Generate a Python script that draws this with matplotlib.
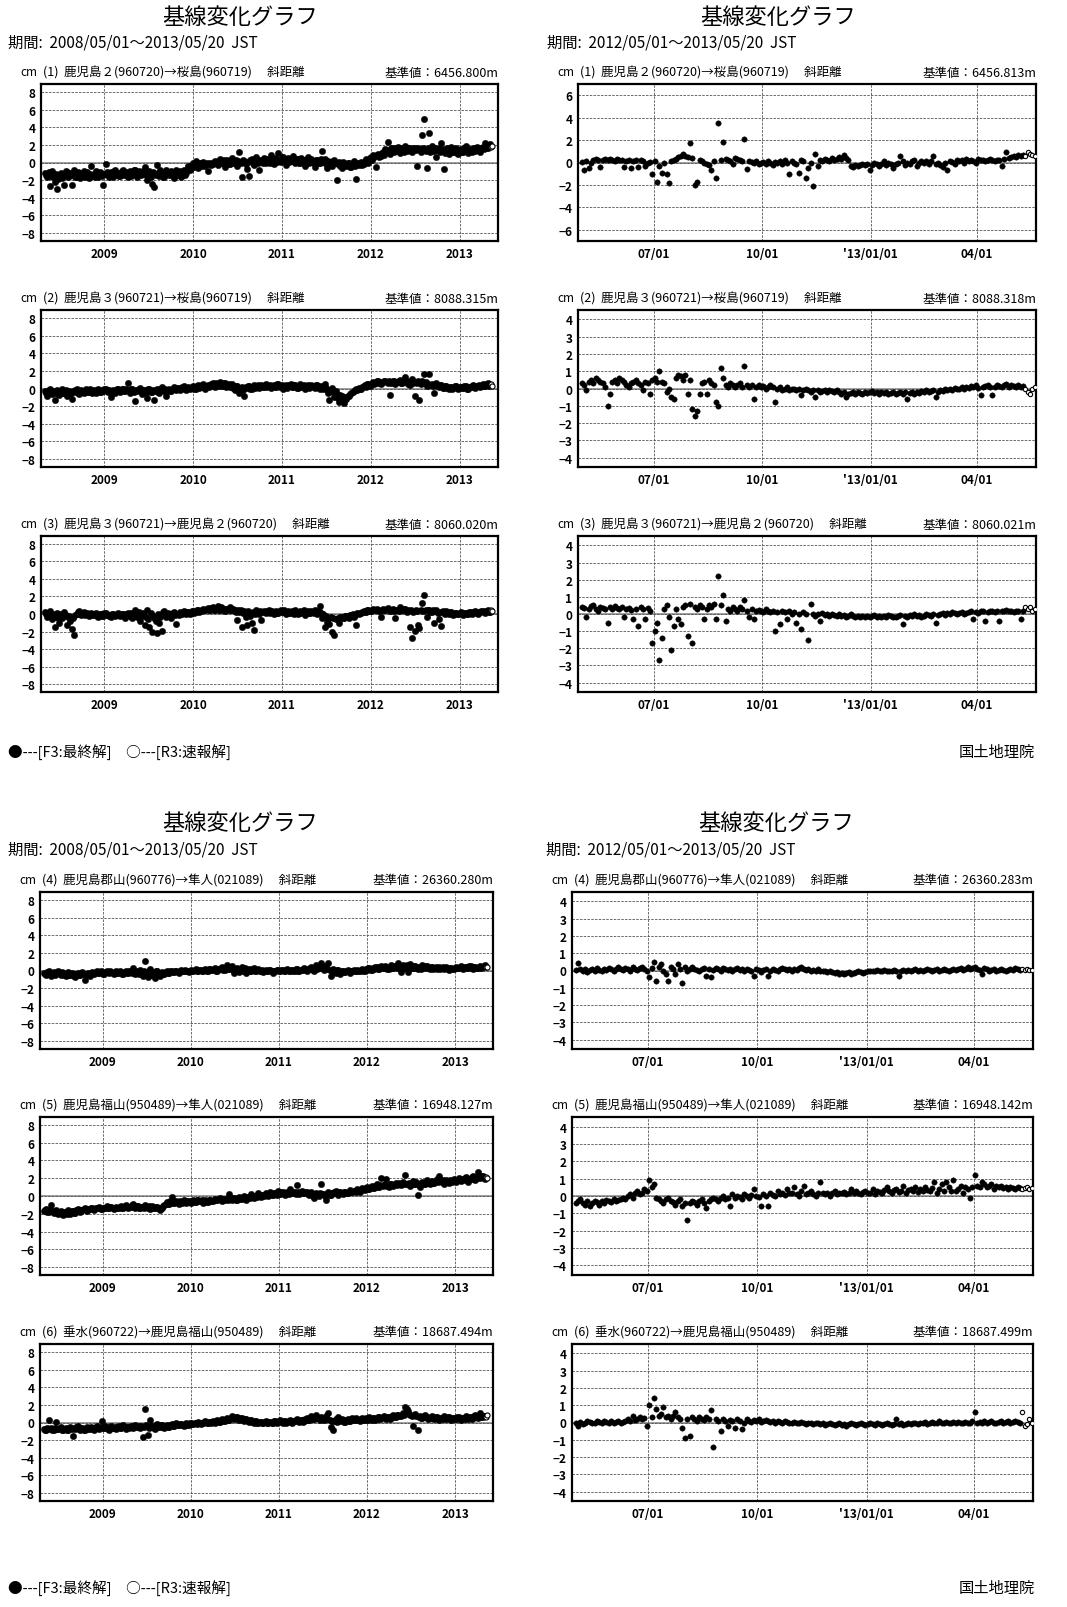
import matplotlib
matplotlib.use('Agg')
import matplotlib.pyplot as plt
import numpy as np

plt.rcParams['font.family'] = ['Noto Sans CJK JP', 'DejaVu Sans']

# ---- data (cm), left: every 5 days from 2008/05/01, right: every 2 days from 2012/05/01 ----
L_START = '2008-05-01'
L_STEP = 5
R_START = '2012-05-01'
R_STEP = 2

long1 = [
    -1.2,-1.4,-1.6,-1.1,-2.7,-1.5,-1.0,-1.7,-2.2,-1.3,-3.0,-1.9,-1.4,-1.2,-1.8,-1.5,-2.6,-1.0,-1.1,-1.6,
    -1.5,-1.2,-2.6,-1.4,-0.9,-1.6,-1.7,-1.1,-1.2,-1.8,-1.5,-1.2,-1.0,-1.6,-1.4,-1.1,-1.8,-1.3,-0.4,-1.5,
    -1.3,-1.6,-1.0,-1.4,-1.6,-1.1,-1.2,-1.5,-2.6,-1.3,-0.2,-1.1,-1.4,-1.7,-1.1,-1.4,-1.7,-1.0,-0.8,-1.4,
    -1.2,-1.5,-1.5,-1.0,-0.9,-1.4,-1.3,-1.1,-1.7,-1.2,-1.0,-1.5,-1.4,-0.9,-0.8,-1.3,-1.6,-1.0,-1.1,-1.4,
    -1.3,-1.0,-0.5,-1.4,-2.0,-1.2,-1.0,-1.6,-2.4,-1.1,-2.8,-1.4,-0.3,-1.2,-1.5,-0.9,-1.1,-1.6,-1.7,-1.2,
    -0.9,-1.3,-1.4,-1.1,-1.0,-1.5,-1.8,-1.2,-0.8,-1.4,-1.3,-1.0,-1.6,-1.1,-0.9,-1.4,-1.2,-0.9,-0.4,-0.8,
    -0.6,-0.3,-0.1,-0.5,0.2,-0.2,-0.6,-0.1,-0.1,-0.4,0.1,-0.3,-0.4,0.0,-1.0,-0.2,0.0,-0.3,-0.2,0.1,
    0.2,-0.1,-0.3,0.2,0.4,-0.1,0.0,0.3,-0.5,0.1,0.3,-0.2,-0.2,0.2,0.5,0.0,0.1,0.3,-0.4,0.2,
    1.2,0.0,-1.6,0.3,0.2,-0.2,-0.7,0.1,-1.5,0.3,0.4,-0.1,-0.3,0.2,0.6,0.0,-0.8,0.3,0.2,-0.1,
    0.5,0.1,-0.1,0.4,0.3,0.0,0.8,0.2,-0.2,0.5,0.4,0.1,1.1,0.3,0.1,0.6,0.6,0.2,-0.3,0.4,
    0.5,0.1,0.2,0.5,0.7,0.2,-0.1,0.4,0.4,0.0,0.0,0.5,0.3,0.1,-0.4,0.3,0.6,0.0,0.1,0.4,
    0.2,0.0,-0.5,0.3,0.3,-0.1,0.0,0.4,1.3,0.1,0.4,-0.2,-0.6,0.2,0.1,-0.3,-0.4,0.2,0.3,-0.1,
    -2.0,-0.2,0.1,-0.4,-0.6,0.1,0.0,-0.3,-0.4,0.0,-0.1,-0.5,-0.5,-0.1,0.2,-0.4,-1.9,0.0,-0.3,-0.1,
    0.1,-0.3,-0.2,0.2,0.4,0.1,0.0,0.5,0.6,0.3,0.9,0.6,-0.5,0.8,1.0,0.6,0.7,1.1,1.2,0.9,
    1.5,1.2,2.3,1.4,1.0,1.7,1.6,1.2,1.3,1.6,1.8,1.3,1.1,1.6,1.5,1.2,1.9,1.4,1.3,1.7,
    1.6,1.3,1.2,1.7,1.7,1.4,-0.4,1.6,1.5,1.2,3.1,1.7,4.9,1.3,-0.6,1.6,3.4,1.2,1.9,1.5,
    1.3,1.7,0.6,1.4,1.7,1.2,2.2,1.5,-0.7,1.1,1.4,1.7,1.0,1.3,1.8,1.2,1.2,1.5,1.6,1.1,
    1.0,1.4,1.5,1.2,1.2,1.6,1.9,1.3,1.1,1.5,1.4,1.2,1.7,1.5,1.3,1.8,1.6,1.4,1.2,1.7,
    1.8,1.5,2.2,1.7,1.6,2.0,2.1,1.8,1.9,
]
long2 = [
    -0.3,-0.5,-0.8,-0.2,0.0,-0.4,-0.6,-0.3,-1.3,-0.5,-0.2,-0.6,-0.7,-0.3,-0.1,-0.5,-0.5,-0.2,-0.9,-0.4,
    -0.3,-0.6,-1.2,-0.3,-0.4,-0.2,0.0,-0.5,-0.6,-0.3,-0.2,-0.4,-0.5,-0.3,-0.1,-0.4,-0.4,-0.1,-0.3,-0.5,
    -0.2,-0.4,-0.5,-0.2,-0.1,-0.4,-0.4,-0.2,-0.3,-0.1,0.0,-0.3,-0.4,-0.2,-1.0,-0.3,-0.2,-0.4,-0.5,-0.1,
    -0.1,-0.3,-0.4,-0.1,0.0,-0.3,-0.3,-0.1,0.6,-0.2,-0.5,-0.1,-0.1,-0.4,-1.4,-0.2,-0.3,0.0,0.1,-0.3,
    -0.6,-0.2,-0.2,-0.5,-1.1,-0.1,0.0,-0.4,-0.4,-0.2,-1.3,-0.3,-0.1,-0.4,-0.5,-0.1,0.2,-0.2,-0.3,0.0,
    -0.8,-0.2,0.0,-0.3,-0.3,0.0,0.2,-0.1,-0.2,0.1,0.1,-0.2,-0.1,0.2,0.3,0.0,-0.2,0.1,0.2,0.0,
    0.1,0.2,0.3,0.0,-0.1,0.3,0.4,0.1,0.2,0.4,0.5,0.2,0.0,0.3,0.4,0.2,0.3,0.5,0.6,0.3,
    0.2,0.6,0.5,0.3,0.7,0.4,0.3,0.6,0.6,0.2,0.4,0.5,0.2,0.4,0.5,0.1,-0.2,0.3,0.3,0.0,
    -0.5,0.1,0.2,-0.2,-0.8,0.2,0.1,0.3,0.3,0.0,-0.1,0.2,0.4,0.1,0.2,0.4,0.1,0.3,0.4,0.2,
    0.2,0.4,0.5,0.2,0.3,0.4,0.1,0.3,0.4,0.2,0.2,0.5,0.5,0.2,0.3,0.4,0.0,0.3,0.4,0.1,
    0.3,0.4,0.5,0.2,0.2,0.4,0.4,0.1,0.1,0.3,0.5,0.2,0.3,0.4,0.0,0.3,0.4,0.1,0.2,0.4,
    0.3,0.2,0.1,0.4,0.4,0.1,0.0,0.3,0.2,-0.1,0.5,0.1,-0.2,-0.5,-1.3,-0.2,0.1,-0.4,-1.0,-0.3,
    -0.6,-1.1,-1.5,-0.7,-0.9,-1.3,-1.7,-1.0,-1.2,-0.9,-0.8,-0.6,-0.5,-0.4,-0.3,-0.2,-0.1,-0.2,0.1,0.0,
    0.0,0.2,0.3,0.4,0.2,0.5,0.5,0.3,0.4,0.6,0.7,0.5,0.6,0.8,0.8,0.6,0.5,0.7,0.7,0.9,
    0.9,0.7,0.6,0.8,-0.7,0.6,0.8,0.9,0.5,0.7,0.7,0.9,1.0,0.6,0.6,0.8,1.3,0.7,0.8,0.5,
    0.4,0.8,1.1,0.6,-0.8,0.7,0.6,0.9,-1.3,0.5,0.9,0.6,1.6,0.7,0.3,0.5,1.7,0.4,0.5,0.3,
    -0.5,0.4,0.6,0.3,0.2,0.4,0.4,0.1,0.1,0.3,0.3,0.1,0.0,0.2,0.2,0.0,0.1,0.3,0.3,0.1,
    0.0,0.2,0.2,0.1,0.1,0.3,0.3,0.0,-0.1,0.2,0.2,0.3,0.4,0.2,0.1,0.3,0.3,0.4,0.2,0.3,
    0.5,0.3,0.3,0.5,0.6,0.3,0.4,0.5,0.3,
]
long3 = [
    0.2,0.0,-0.3,0.1,0.3,-0.2,-0.6,0.0,-1.5,-0.3,0.1,-0.5,-1.0,0.0,-0.4,-0.2,0.2,-0.1,-1.3,-0.3,
    -0.2,-0.8,-1.7,-0.4,-2.4,-0.1,0.0,0.2,0.3,0.0,-0.1,0.1,0.2,-0.1,0.0,0.1,-0.2,0.0,0.1,-0.1,
    -0.1,0.0,0.1,-0.2,-0.3,0.0,0.0,-0.2,-0.2,0.1,0.1,-0.1,-0.1,-0.2,-0.3,0.0,0.0,-0.1,-0.2,0.0,
    0.1,-0.1,-0.2,0.0,0.0,-0.2,-0.4,0.0,0.1,-0.1,-0.2,0.1,-0.5,-0.1,0.4,0.0,-0.3,0.2,-0.8,-0.1,
    -0.2,0.1,-1.2,-0.3,0.5,-0.6,-1.5,0.1,-2.1,-0.2,-0.4,-0.8,-2.2,0.0,-1.0,-0.3,-1.9,0.2,0.3,-0.1,
    -0.3,0.1,0.0,-0.2,-0.5,0.1,0.2,-0.1,-1.1,0.0,-0.1,0.2,0.1,0.0,0.3,0.1,0.0,0.2,0.2,0.0,
    0.1,0.3,0.3,0.1,0.2,0.4,0.5,0.2,0.3,0.5,0.6,0.4,0.4,0.6,0.7,0.4,0.5,0.7,0.8,0.5,
    0.4,0.7,0.9,0.5,0.5,0.8,0.7,0.4,0.3,0.6,0.6,0.4,0.8,0.5,0.4,0.6,0.5,0.2,-0.7,0.4,
    0.2,0.4,-1.5,0.1,0.3,-0.3,-1.2,0.3,0.1,-0.2,-1.0,0.2,-1.8,0.0,0.4,0.1,0.0,0.3,-0.7,0.2,
    0.3,0.2,0.1,0.3,0.4,0.1,0.2,0.3,0.0,0.2,0.3,0.1,0.1,0.3,0.4,0.2,0.2,0.4,0.0,0.2,
    0.3,0.1,0.1,0.3,0.2,0.0,0.4,0.2,0.0,0.2,0.3,0.1,0.2,0.4,-0.1,0.2,0.3,0.1,0.1,0.3,
    0.2,0.1,0.4,0.2,0.0,0.3,0.9,0.1,-0.5,0.0,-1.5,-0.2,-0.9,-0.4,-1.1,-0.3,-2.0,-0.5,-2.4,-0.6,
    -0.6,-0.4,-1.0,-0.3,-0.3,-0.4,-0.5,-0.2,-0.2,-0.3,-0.4,-0.1,-0.1,0.0,-0.3,-0.1,-1.2,0.1,0.0,0.1,
    0.1,0.2,0.3,0.2,0.2,0.4,0.5,0.3,0.3,0.5,0.6,0.4,0.4,0.6,0.5,0.3,-0.3,0.5,0.6,0.4,
    0.4,0.6,0.7,0.4,0.3,0.5,0.6,0.3,-0.4,0.5,0.5,0.3,0.8,0.5,0.4,0.6,0.6,0.3,0.2,0.5,
    -1.5,0.4,-2.7,0.2,-1.9,0.5,0.3,-1.2,-1.6,0.4,1.2,0.3,2.2,0.5,-0.3,0.4,0.5,0.2,0.2,0.4,
    -1.0,0.3,0.4,0.1,-0.6,0.2,-1.4,0.3,0.1,0.0,0.3,0.1,0.0,0.2,0.2,0.0,-0.1,0.1,0.1,0.0,
    0.0,0.1,0.2,0.0,-0.1,0.1,0.1,0.0,0.0,0.2,0.2,0.0,0.1,0.2,0.3,0.1,0.0,0.2,0.2,0.3,
    0.3,0.2,0.1,0.3,0.4,0.2,0.2,0.4,0.3,
]
long4 = [
    -0.3,-0.4,-0.5,-0.2,-0.1,-0.4,-0.6,-0.3,-0.2,-0.5,-0.4,-0.2,0.0,-0.3,-0.5,-0.2,-0.3,-0.5,-0.6,-0.4,
    -0.2,-0.5,-0.5,-0.3,-0.4,-0.6,-0.7,-0.4,-0.3,-0.5,-0.5,-0.3,-0.2,-0.4,-1.1,-0.5,-0.4,-0.3,-0.6,-0.4,
    -0.2,-0.3,-0.4,-0.2,-0.1,-0.3,-0.3,-0.1,-0.2,-0.4,-0.4,-0.2,0.0,-0.2,-0.3,-0.1,-0.2,-0.3,-0.4,-0.2,
    -0.1,-0.3,-0.3,-0.1,-0.2,-0.4,-0.4,-0.2,0.0,-0.3,-0.3,-0.1,-0.1,-0.3,0.3,-0.2,-0.4,-0.1,-0.2,-0.4,
    0.1,-0.3,-0.6,-0.1,1.1,-0.4,-0.7,0.0,0.2,-0.3,-0.5,-0.2,-0.8,-0.1,0.0,-0.4,-0.6,-0.3,-0.2,-0.4,
    -0.4,-0.2,-0.1,-0.3,-0.3,-0.1,0.0,-0.2,-0.2,0.0,-0.1,-0.2,-0.3,-0.1,0.1,-0.1,-0.1,0.1,0.0,-0.1,
    -0.2,0.0,0.1,-0.1,-0.1,0.1,0.2,0.0,0.0,0.1,0.1,-0.1,-0.1,0.1,0.2,0.0,0.0,0.2,0.2,0.1,
    0.1,0.2,0.3,0.0,0.0,0.2,0.2,0.3,0.4,0.1,0.1,0.3,0.6,0.2,0.2,0.4,0.5,0.1,-0.3,0.2,
    0.3,0.1,-0.2,0.2,0.4,0.0,0.1,0.3,-0.3,0.1,0.2,0.0,0.0,0.2,0.3,0.0,-0.1,0.1,0.2,0.0,
    0.0,0.1,-0.2,0.0,0.1,-0.1,-0.1,0.1,0.1,-0.1,-0.3,0.0,0.0,0.1,0.1,-0.1,-0.1,0.1,0.1,0.0,
    0.0,0.1,0.2,0.0,-0.1,0.1,0.1,0.0,0.0,0.2,0.2,0.0,-0.1,0.1,0.1,0.2,0.3,0.1,0.0,0.2,
    0.2,0.3,0.4,0.1,0.0,0.3,0.6,0.2,0.3,0.5,0.8,0.3,0.1,0.4,0.5,0.2,0.9,0.1,-0.6,0.0,
    0.2,0.0,-0.3,0.1,0.1,-0.2,-0.4,0.0,0.0,-0.2,-0.2,0.0,0.1,-0.1,-0.3,0.0,-0.1,0.1,0.0,-0.1,
    0.1,0.0,-0.1,0.1,0.2,0.0,0.0,0.2,0.1,0.3,0.3,0.1,0.1,0.3,0.2,0.4,0.4,0.2,0.2,0.4,
    0.5,0.3,0.3,0.5,0.4,0.2,0.2,0.4,0.6,0.3,0.3,0.5,0.5,0.3,0.8,0.4,-0.2,0.5,0.6,0.3,
    0.4,0.6,-0.2,0.4,0.7,0.3,0.3,0.5,0.5,0.3,0.2,0.4,0.4,0.2,0.6,0.4,0.3,0.5,0.5,0.3,
    0.2,0.4,0.4,0.2,0.3,0.4,0.2,0.3,0.4,0.2,0.3,0.4,0.2,0.3,0.4,0.2,0.1,0.3,0.3,0.2,
    0.2,0.3,0.4,0.3,0.3,0.4,0.5,0.3,0.2,0.4,0.4,0.3,0.3,0.5,0.5,0.3,0.2,0.4,0.4,0.3,
    0.3,0.4,0.5,0.3,0.4,0.5,0.6,0.4,0.4,
]
long5 = [
    -1.7,-1.6,-1.5,-1.8,-1.8,-1.6,-1.0,-1.7,-1.9,-1.7,-1.6,-1.9,-2.0,-1.8,-1.7,-2.0,-2.1,-1.8,-1.8,-2.0,
    -1.6,-1.8,-2.0,-1.7,-1.7,-1.9,-1.9,-1.6,-1.5,-1.7,-1.8,-1.6,-1.6,-1.5,-1.4,-1.6,-1.7,-1.5,-1.5,-1.3,
    -1.3,-1.5,-1.6,-1.4,-1.4,-1.3,-1.2,-1.5,-1.5,-1.3,-1.3,-1.4,-1.1,-1.3,-1.4,-1.2,-1.2,-1.4,-1.5,-1.3,
    -1.2,-1.3,-1.4,-1.2,-1.1,-1.3,-1.3,-1.1,-1.0,-1.2,-1.4,-1.2,-1.2,-1.0,-0.9,-1.2,-1.3,-1.1,-1.1,-1.3,
    -1.4,-1.2,-1.2,-1.3,-1.0,-1.2,-1.3,-1.1,-1.5,-1.3,-1.1,-1.3,-1.4,-1.2,-1.2,-1.4,-1.6,-1.3,-1.3,-1.1,
    -1.0,-0.9,-0.7,-0.9,-0.9,-0.6,-0.1,-0.8,-0.8,-0.7,-0.6,-0.8,-0.9,-0.6,-0.7,-0.8,-0.5,-0.7,-0.8,-0.6,
    -0.6,-0.7,-0.8,-0.6,-0.5,-0.7,-0.7,-0.5,-0.4,-0.6,-0.6,-0.5,-0.8,-0.6,-0.5,-0.7,-0.7,-0.5,-0.4,-0.6,
    -0.6,-0.4,-0.3,-0.5,-0.5,-0.3,-0.2,-0.4,-0.6,-0.3,-0.4,-0.3,-0.3,-0.5,0.2,-0.3,-0.5,-0.2,-0.2,-0.4,
    -0.4,-0.2,-0.1,-0.3,-0.3,-0.1,0.0,-0.2,-0.4,-0.1,-0.1,-0.2,0.2,-0.1,-0.2,0.0,0.0,-0.1,0.3,0.0,
    -0.1,0.1,0.1,0.0,0.3,0.1,0.0,0.2,0.4,0.1,0.1,0.3,0.3,0.1,0.6,0.2,0.2,0.4,0.4,0.2,
    0.1,0.3,0.4,0.2,0.8,0.3,0.3,0.5,0.5,0.2,1.2,0.4,0.2,0.5,0.6,0.3,0.3,0.5,0.5,0.2,
    0.1,0.3,0.4,0.0,-0.2,0.2,0.3,0.1,0.0,0.3,1.4,0.2,0.2,0.0,-0.4,0.2,0.4,0.1,0.1,0.3,
    0.3,0.4,0.6,0.3,0.1,0.4,0.4,0.3,0.2,0.5,0.5,0.3,0.3,0.5,0.7,0.4,0.4,0.6,0.6,0.5,
    0.8,0.6,0.5,0.7,0.9,0.8,0.7,0.9,1.0,0.8,0.8,1.0,1.1,0.9,0.9,1.1,1.3,1.0,1.0,1.2,
    2.0,1.1,1.2,1.3,1.9,1.1,1.0,1.3,1.4,1.2,1.1,1.4,1.5,1.2,1.3,1.5,1.2,1.4,1.6,1.3,
    2.4,1.4,1.3,1.5,1.1,1.4,1.7,1.3,1.4,1.6,0.1,1.2,1.0,1.4,1.6,1.4,1.3,1.6,1.8,1.5,
    1.4,1.6,1.7,1.5,1.5,1.7,1.9,1.6,2.3,1.7,1.6,1.8,1.4,1.6,1.8,1.6,1.5,1.8,1.7,1.6,
    1.9,1.7,1.6,1.8,2.0,1.8,1.7,1.9,1.8,2.0,2.1,1.8,1.6,1.9,1.9,2.1,2.2,1.9,1.8,2.0,
    2.7,2.1,2.0,2.2,2.3,2.0,1.9,2.1,2.0,
]
long6 = [
    -0.7,-0.8,-0.9,-0.6,0.3,-0.7,-0.6,-0.8,-0.8,-0.6,0.1,-0.7,-0.7,-0.6,-0.5,-0.8,-0.9,-0.7,-0.6,-0.8,
    -0.8,-0.6,-0.5,-0.7,-1.5,-0.6,-0.7,-0.5,-0.4,-0.7,-0.8,-0.6,-0.6,-0.8,-0.9,-0.6,-0.5,-0.7,-0.7,-0.5,
    -0.6,-0.7,-0.8,-0.5,-0.4,-0.6,-0.7,-0.5,0.2,-0.6,-0.6,-0.4,-0.5,-0.7,-0.8,-0.6,-0.4,-0.6,-0.6,-0.5,
    -0.7,-0.5,-0.4,-0.6,-0.6,-0.4,-0.3,-0.5,-0.7,-0.5,-0.5,-0.6,-0.4,-0.5,-0.6,-0.4,-0.3,-0.5,-0.5,-0.4,
    -0.6,-0.4,-1.6,-0.5,1.5,-0.3,-1.4,-0.6,0.3,-0.4,-0.4,-0.6,-0.7,-0.3,-0.2,-0.5,-0.5,-0.3,-0.3,-0.5,
    -0.6,-0.4,-0.3,-0.5,-0.5,-0.3,-0.2,-0.4,-0.4,-0.2,-0.1,-0.3,-0.3,-0.2,-0.2,-0.3,-0.4,-0.2,-0.1,-0.3,
    -0.3,-0.1,0.0,-0.2,-0.2,0.0,-0.1,-0.2,0.1,-0.1,-0.2,0.0,0.0,0.1,0.2,0.0,-0.1,0.1,0.1,0.0,
    0.2,0.1,0.0,0.2,0.3,0.1,0.1,0.3,0.4,0.2,0.2,0.4,0.5,0.3,0.3,0.5,0.7,0.5,0.4,0.6,
    0.6,0.4,0.3,0.5,0.5,0.3,0.2,0.4,0.4,0.2,0.1,0.3,0.3,0.1,0.0,0.2,0.2,0.0,-0.1,0.1,
    0.1,0.0,0.0,0.1,0.2,0.0,-0.1,0.1,0.1,0.0,0.0,0.2,0.2,0.0,0.1,0.2,0.3,0.1,0.0,0.2,
    0.2,0.0,0.1,0.2,0.3,0.1,0.0,0.2,0.2,0.3,0.4,0.2,0.1,0.3,0.3,0.1,0.2,0.4,0.5,0.3,
    0.3,0.5,0.7,0.4,0.4,0.6,0.8,0.5,0.5,0.3,0.6,0.4,0.3,0.5,0.7,0.4,1.1,0.3,-0.5,0.2,
    -0.8,0.2,0.4,0.1,0.6,0.3,0.2,0.4,0.3,0.1,0.1,0.3,0.4,0.2,0.2,0.4,0.5,0.3,0.3,0.5,
    0.4,0.3,0.2,0.4,0.5,0.3,0.3,0.5,0.4,0.3,0.6,0.4,0.3,0.5,0.5,0.3,0.4,0.6,0.6,0.4,
    0.5,0.6,0.7,0.5,0.4,0.6,0.6,0.4,0.5,0.7,0.8,0.6,0.6,0.8,0.9,0.7,0.7,0.9,1.1,0.8,
    1.8,1.5,1.3,1.0,0.9,0.7,-0.4,0.8,1.0,0.7,-0.9,0.6,0.7,0.5,0.5,0.7,0.8,0.6,0.6,0.4,
    0.5,0.6,0.7,0.5,0.4,0.6,0.6,0.4,0.3,0.5,0.5,0.4,0.7,0.5,0.4,0.6,0.6,0.4,0.3,0.5,
    0.5,0.4,0.4,0.6,0.6,0.4,0.3,0.5,0.5,0.4,0.7,0.5,0.4,0.6,0.6,0.4,0.5,0.7,0.8,0.6,
    0.5,0.7,1.1,0.6,0.6,0.7,0.7,0.6,0.8,
]

short1 = [
    0.05,-0.7,0.1,-0.5,0.0,0.2,0.3,0.25,-0.4,0.2,0.3,0.25,0.3,0.2,0.1,0.3,0.25,0.2,-0.4,0.15,
    0.2,-0.5,0.1,0.2,-0.4,0.2,0.1,-0.3,0.0,0.05,-1.0,0.1,-1.7,-0.3,-0.9,0.0,-1.0,-1.8,0.1,0.2,
    0.3,0.5,0.6,0.8,0.6,0.5,1.7,0.4,-2.0,-1.7,0.2,0.1,0.0,-0.1,-0.2,-0.7,0.1,-1.4,3.5,0.2,
    1.8,0.3,0.2,0.1,-0.1,0.4,0.3,0.2,0.1,2.1,-0.6,0.1,0.05,0.0,0.1,-0.1,0.0,0.05,-0.1,0.1,
    0.0,-0.2,0.05,0.0,0.1,-0.1,0.2,0.0,-1.0,0.1,0.0,-0.1,-0.9,0.2,0.1,-1.4,-0.5,0.0,-2.1,0.8,
    -0.3,0.2,0.1,0.3,0.2,0.1,0.4,0.2,0.3,0.5,0.3,0.7,0.4,0.2,-0.3,-0.4,-0.2,-0.3,-0.2,-0.1,
    -0.2,-0.1,-0.7,-0.2,0.0,-0.1,-0.3,-0.1,0.1,-0.2,0.0,-0.1,-0.5,-0.1,0.0,0.6,0.1,-0.2,0.0,-0.1,
    0.1,0.2,-0.3,0.0,0.1,0.0,0.1,-0.1,0.1,0.6,-0.1,0.0,-0.2,-0.4,0.0,-0.7,0.1,0.05,-0.1,0.2,
    0.1,0.2,0.0,0.3,0.1,0.2,0.15,0.0,0.3,0.2,0.25,0.1,0.2,0.3,0.2,0.1,0.25,0.2,-0.3,0.3,
    0.9,0.4,0.5,0.6,0.5,0.7,0.6,0.7,0.6,0.9,0.8,0.7,0.6,
]
short2 = [
    0.3,0.2,-0.1,0.4,0.5,0.3,0.6,0.5,0.4,0.3,0.1,-1.0,-0.3,0.4,0.5,0.3,0.6,0.5,0.4,0.2,
    0.1,0.3,0.4,0.5,0.3,0.2,-0.1,0.4,0.3,-0.3,0.5,0.6,0.4,1.0,0.4,0.3,-0.2,0.0,-0.5,-0.6,
    0.6,0.8,0.7,0.5,0.8,-0.3,0.5,-1.2,-1.6,-1.3,-0.3,0.3,0.4,-0.3,0.5,0.3,0.2,-0.8,-1.0,1.2,
    0.6,0.2,0.1,0.3,0.2,0.1,0.2,0.3,0.1,1.3,0.2,0.1,0.2,-0.6,0.1,0.2,0.1,0.15,0.0,0.1,
    0.2,0.1,-0.8,0.0,0.1,-0.1,0.0,0.1,-0.1,0.0,-0.05,-0.1,0.0,-0.4,-0.1,0.0,-0.1,-0.2,-0.1,-0.5,
    -0.1,-0.2,-0.15,-0.1,-0.2,-0.1,-0.15,-0.2,-0.1,-0.2,-0.3,-0.2,-0.5,-0.3,-0.25,-0.2,-0.3,-0.2,-0.25,-0.3,
    -0.2,-0.25,-0.2,-0.15,-0.25,-0.2,-0.3,-0.2,-0.25,-0.2,-0.3,-0.25,-0.2,-0.3,-0.25,-0.2,-0.3,-0.2,-0.6,-0.25,
    -0.2,-0.3,-0.2,-0.25,-0.15,-0.2,-0.1,-0.2,-0.15,-0.1,-0.5,-0.2,-0.1,-0.15,-0.05,-0.1,0.0,-0.1,0.05,-0.05,
    0.0,0.1,-0.05,0.1,0.05,0.15,0.1,0.2,0.05,-0.4,0.1,0.15,0.2,0.1,-0.4,0.1,0.2,0.15,0.1,0.2,
    0.25,0.1,0.2,0.15,0.1,0.2,0.1,0.15,0.0,-0.2,-0.3,0.0,0.1,
]
short3 = [
    0.4,0.35,-0.2,0.3,0.45,0.5,0.3,0.2,0.4,0.35,0.3,-0.5,0.4,0.3,0.45,0.35,0.3,0.4,-0.2,0.3,
    0.35,0.25,-0.3,0.3,-0.7,0.4,0.3,-0.3,0.35,0.2,-1.7,-1.0,-0.5,-2.7,-1.4,0.3,0.5,-0.2,-2.1,-0.7,
    0.3,-0.3,-0.6,0.4,0.5,-1.3,0.6,-1.7,0.4,0.3,0.5,0.4,-0.3,0.3,0.5,0.4,0.6,-0.3,2.2,0.5,
    1.1,-0.4,0.3,0.2,0.4,0.3,0.2,0.4,0.3,0.8,0.2,-0.2,0.3,-0.3,0.2,0.25,0.2,0.1,0.3,0.2,
    0.1,0.2,-1.0,0.1,-0.6,0.2,0.1,-0.3,0.2,0.0,0.1,-0.5,0.0,-0.9,0.1,0.0,-1.5,0.6,0.0,-0.1,
    0.0,-0.4,0.05,-0.05,0.0,-0.1,0.0,-0.05,-0.1,0.0,-0.1,-0.05,-0.15,-0.1,0.0,-0.1,-0.15,-0.1,-0.2,-0.1,
    -0.15,-0.1,-0.2,-0.1,-0.05,-0.15,-0.1,-0.2,-0.1,-0.15,-0.05,-0.1,-0.2,-0.15,-0.1,-0.05,-0.6,-0.1,-0.15,-0.05,
    -0.1,0.0,-0.1,-0.05,-0.15,-0.1,0.0,-0.05,-0.1,0.0,-0.5,-0.05,0.0,0.05,-0.05,0.05,0.0,0.1,0.05,0.0,
    0.05,0.1,0.0,0.05,0.1,0.15,-0.3,0.1,0.05,0.15,0.2,-0.4,0.1,0.2,0.15,0.1,0.2,-0.4,0.15,0.2,
    0.25,0.15,0.2,0.1,0.2,0.15,-0.3,0.2,0.4,0.3,0.4,0.2,0.3,
]
short4 = [
    0.05,0.45,0.1,0.0,0.1,-0.1,0.05,0.1,0.0,0.15,0.05,0.0,0.1,0.05,0.15,0.1,0.0,0.1,0.2,0.1,
    0.05,0.15,0.1,0.0,0.2,0.1,0.05,0.15,0.2,0.1,0.0,-0.4,0.15,0.5,-0.6,0.2,0.4,0.0,-0.2,-0.6,
    0.2,0.1,-0.2,0.4,0.1,-0.7,0.2,0.0,0.1,0.2,0.1,0.05,0.0,0.1,0.15,-0.3,0.1,-0.4,0.05,0.15,
    0.1,0.0,0.15,0.1,0.05,0.1,0.0,0.1,0.15,0.05,0.1,0.0,0.1,0.05,0.0,-0.3,0.1,0.05,-0.1,0.05,
    0.1,-0.3,0.0,0.1,0.05,0.0,0.1,0.15,0.1,0.05,0.1,0.0,0.1,0.05,0.15,0.2,0.1,0.05,0.1,0.0,
    0.05,0.0,0.1,0.0,-0.05,0.0,-0.1,-0.05,-0.1,-0.15,-0.1,-0.2,-0.15,-0.2,-0.15,-0.1,-0.2,-0.15,-0.1,-0.05,
    -0.1,-0.15,-0.1,0.0,-0.05,0.0,-0.05,0.05,0.0,-0.05,0.05,0.0,-0.05,0.0,0.05,0.0,-0.3,0.0,0.05,0.0,
    0.05,0.0,0.05,0.1,0.0,0.05,0.0,0.05,0.1,0.05,0.0,0.05,0.1,0.0,0.05,0.1,0.05,0.0,0.05,0.1,
    0.05,0.1,0.15,0.05,0.1,0.2,0.1,0.15,0.2,0.1,0.05,-0.2,0.15,0.1,0.0,0.05,0.1,0.0,0.05,0.1,
    0.05,0.0,0.05,0.1,0.05,0.15,0.1,0.05,0.1,0.05,0.1,0.05,0.05,
]
short5 = [
    -0.4,-0.3,-0.2,-0.4,-0.5,-0.3,-0.6,-0.4,-0.3,-0.35,-0.5,-0.3,-0.4,-0.25,-0.3,-0.35,-0.2,-0.3,-0.25,-0.2,
    -0.1,-0.2,0.0,0.1,-0.1,0.2,0.3,0.1,0.2,0.4,0.3,0.9,0.5,0.7,-0.1,-0.2,-0.3,-0.4,-0.2,-0.1,
    -0.3,-0.35,-0.5,-0.3,-0.2,-0.6,-0.4,-1.4,-0.4,-0.3,-0.35,-0.5,-0.3,-0.2,-0.4,-0.7,-0.3,-0.2,-0.1,-0.2,
    -0.3,-0.1,0.0,-0.2,-0.1,-0.6,0.1,-0.1,0.0,-0.05,-0.2,0.1,0.0,-0.1,0.05,0.4,0.0,-0.05,-0.6,0.1,
    0.0,-0.6,0.2,0.05,0.0,0.3,0.1,0.2,0.05,0.4,0.15,0.2,0.5,0.1,0.0,0.3,0.6,0.1,0.2,0.3,
    0.1,0.0,0.2,0.8,0.15,0.1,0.2,0.0,0.15,0.3,0.1,0.2,0.15,0.25,0.1,0.2,0.4,0.15,0.3,0.2,
    0.1,0.25,0.3,0.2,0.15,0.4,0.1,0.3,0.25,0.2,0.35,0.5,0.3,0.2,0.35,0.4,0.25,0.3,0.6,0.2,
    0.35,0.4,0.3,0.5,0.25,0.4,0.3,0.5,0.35,0.3,0.45,0.8,0.2,0.4,0.7,0.3,0.8,0.5,0.3,0.9,
    0.3,0.4,0.6,0.2,0.5,0.4,-0.1,0.5,1.2,0.6,0.5,0.8,0.7,0.5,0.6,0.7,0.4,0.6,0.5,0.55,
    0.45,0.5,0.4,0.5,0.45,0.4,0.5,0.45,0.4,0.45,0.5,0.4,0.45,
]
short6 = [
    0.0,-0.2,0.05,-0.1,0.0,0.1,0.05,-0.05,0.0,0.1,0.05,0.0,0.1,0.05,-0.05,0.1,0.0,0.05,0.1,0.0,
    0.05,0.1,0.2,0.1,0.4,0.15,0.2,0.3,0.2,0.25,-0.2,1.0,0.3,1.4,0.8,0.4,0.5,0.9,0.3,0.4,
    0.2,0.35,0.6,0.3,0.2,-0.3,-0.9,0.2,-0.8,0.3,0.2,0.1,0.3,0.2,0.15,0.3,0.2,0.7,-1.4,0.2,
    0.1,-0.5,0.2,0.1,-0.2,0.15,0.1,-0.3,0.2,0.1,-0.4,0.0,0.2,0.1,0.05,0.15,0.1,0.2,0.05,0.1,
    0.15,0.1,0.05,0.1,0.0,0.1,0.05,0.0,0.1,0.05,-0.05,0.0,0.05,-0.05,0.0,0.05,-0.05,-0.1,0.0,-0.05,
    -0.1,-0.05,0.0,-0.1,-0.05,-0.15,-0.1,-0.05,-0.1,-0.15,-0.1,-0.05,-0.15,-0.1,-0.2,-0.1,-0.05,-0.1,-0.15,-0.1,
    -0.05,-0.1,-0.15,-0.1,-0.05,-0.1,-0.15,-0.05,-0.1,-0.15,-0.1,-0.05,-0.1,-0.15,-0.1,0.2,-0.1,-0.05,-0.15,-0.1,
    -0.05,-0.1,0.0,-0.05,-0.1,0.0,-0.05,0.05,-0.1,0.0,0.05,-0.05,0.0,0.1,0.0,-0.05,0.05,0.0,-0.05,0.05,
    0.0,0.05,-0.05,0.0,0.05,0.0,-0.05,0.1,0.6,0.0,0.05,-0.05,0.1,0.0,0.05,0.1,0.0,-0.05,0.05,0.1,
    0.0,0.05,0.1,0.0,0.05,0.1,0.05,0.0,0.6,-0.2,-0.1,0.2,0.0,
]

# trailing points that are rapid (R3) solutions, drawn hollow
long_rapid = 2
short_rapid = 5

baselines = [
    '(1)  鹿児島２(960720)→桜島(960719)　 斜距離',
    '(2)  鹿児島３(960721)→桜島(960719)　 斜距離',
    '(3)  鹿児島３(960721)→鹿児島２(960720)　 斜距離',
    '(4)  鹿児島郡山(960776)→隼人(021089)　 斜距離',
    '(5)  鹿児島福山(950489)→隼人(021089)　 斜距離',
    '(6)  垂水(960722)→鹿児島福山(950489)　 斜距離',
]
long_base = ['6456.800', '8088.315', '8060.020', '26360.280', '16948.127', '18687.494']
short_base = ['6456.813', '8088.318', '8060.021', '26360.283', '16948.142', '18687.499']

long_ticks = ['2009-01-01', '2010-01-01', '2011-01-01', '2012-01-01', '2013-01-01']
long_ticklabels = ['2009', '2010', '2011', '2012', '2013']
short_ticks = ['2012-07-01', '2012-10-01', '2013-01-01', '2013-04-01']
short_ticklabels = ['07/01', '10/01', "'13/01/01", '04/01']

long_series = [long1, long2, long3, long4, long5, long6]
short_series = [short1, short2, short3, short4, short5, short6]

# ---- layout (pixels) ----
W, H = 1067, 1608
fig = plt.figure(figsize=(W / 100, H / 100), dpi=100)


def fx(px):
    return px / W


def fy(py):
    return 1 - py / H


def panel(x0, x1, y0, y1, start, step, vals, n_rapid, ylim, yticks,
          ticks, ticklabels, xlim, header, base, ms):
    ax = fig.add_axes([fx(x0), fy(y1), fx(x1 - x0), (y1 - y0) / H])
    dates = np.datetime64(start) + np.arange(len(vals)) * step
    vals = np.array(vals)
    n = len(vals) - n_rapid
    ax.axhline(0, color='#8c8c8c', lw=1.2, zorder=1)
    ax.plot(dates[:n], vals[:n], 'o', ms=ms, color='black', mec='black',
            mew=0.3, zorder=3)
    ax.plot(dates[n:], vals[n:], 'o', ms=ms * 0.8, mfc='white', mec='black',
            mew=0.8, zorder=3)
    ax.set_xlim(np.datetime64(xlim[0]), np.datetime64(xlim[1]))
    ax.set_ylim(-ylim, ylim)
    ax.set_yticks(yticks)
    ax.set_yticklabels([str(v).replace('-', '−') for v in yticks])
    ax.set_xticks([np.datetime64(t) for t in ticks])
    ax.set_xticklabels(ticklabels)
    ax.grid(True, color='#555555', lw=0.6, ls=(0, (3, 1.5)), zorder=0)
    ax.tick_params(length=0, labelsize=8.5, pad=4)
    for lab in ax.get_xticklabels() + ax.get_yticklabels():
        lab.set_fontweight('bold')
    for sp in ax.spines.values():
        sp.set_linewidth(1.6)
    yh = y0 - 12
    fig.text(fx(x0 - 12), fy(yh), 'cm', ha='center', va='center', fontsize=8.5)
    fig.text(fx(x0 + 2), fy(yh), header, ha='left', va='center', fontsize=9)
    fig.text(fx(x1), fy(yh), '基準値：' + base + 'm', ha='right', va='center',
             fontsize=9)
    return ax


blocks = [
    dict(idx=[0, 1, 2], title_y=17, period_y=43, legend_y=752,
         lx=(41, 498), rx=(578, 1036), tl=240, tr=778, pr=547,
         rows=[(85, 242), (311, 468), (537, 693)]),
    dict(idx=[3, 4, 5], title_y=823, period_y=850, legend_y=1588,
         lx=(40, 493), rx=(572, 1033), tl=240, tr=776, pr=546,
         rows=[(893, 1050), (1118, 1276), (1345, 1502)]),
]

for b in blocks:
    fig.text(fx(b['tl']), fy(b['title_y']), '基線変化グラフ', ha='center',
             va='center', fontsize=16)
    fig.text(fx(b['tr']), fy(b['title_y']), '基線変化グラフ', ha='center',
             va='center', fontsize=16)
    fig.text(fx(8), fy(b['period_y']), '期間:  2008/05/01～2013/05/20  JST',
             ha='left', va='center', fontsize=11)
    fig.text(fx(b['pr']), fy(b['period_y']), '期間:  2012/05/01～2013/05/20  JST',
             ha='left', va='center', fontsize=11)
    for k, (y0, y1) in zip(b['idx'], b['rows']):
        panel(b['lx'][0], b['lx'][1], y0, y1, L_START, L_STEP, long_series[k],
              long_rapid, 8.9, list(range(-8, 9, 2)), long_ticks,
              long_ticklabels, ('2008-04-15', '2013-06-07'), baselines[k],
              long_base[k], 4.6)
        if k == 0:
            rlim, rticks = 7.0, list(range(-6, 7, 2))
        else:
            rlim, rticks = 4.55, list(range(-4, 5))
        panel(b['rx'][0], b['rx'][1], y0, y1, R_START, R_STEP, short_series[k],
              short_rapid, rlim, rticks, short_ticks, short_ticklabels,
              ('2012-04-28', '2013-05-21'), baselines[k], short_base[k], 3.9)
    fig.text(fx(8), fy(b['legend_y']), '●---[F3:最終解]　○---[R3:速報解]',
             ha='left', va='center', fontsize=10.5)
    fig.text(fx(1035), fy(b['legend_y']), '国土地理院', ha='right',
             va='center', fontsize=11)

fig.savefig('out.png', dpi=100, facecolor='white')
